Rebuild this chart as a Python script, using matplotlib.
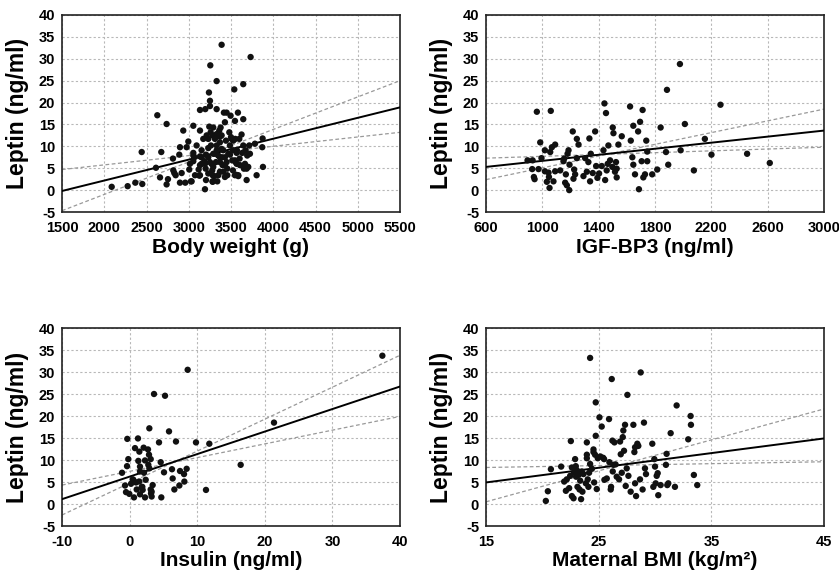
import matplotlib
matplotlib.use("Agg")
import matplotlib.pyplot as plt
import numpy as np

plt.rcParams['font.family'] = ['Liberation Sans', 'DejaVu Sans']
plt.rcParams['font.weight'] = 'bold'
plt.rcParams['axes.unicode_minus'] = False

# ---------------- Panel 1: Body weight ----------------
bw_x = [2088, 2277, 2368, 2450, 2443, 2612, 2628, 2675, 2660, 2738, 2738, 2754, 2813, 2817, 2829, 2845,
        2888, 2896, 2896, 2916, 2935, 2959, 2975, 2995, 3014, 3006, 3026, 3054, 3054, 3066, 3093, 3117,
        3125, 3133, 3133, 3133, 3152, 3152, 3172, 3184, 3196, 3200, 3192, 3204, 3212, 3231, 3231, 3231,
        3231, 3239, 3243, 3251, 3251, 3255, 3259, 3263, 3270, 3278, 3282, 3290, 3290, 3302, 3310, 3322,
        3330, 3330, 3330, 3330, 3338, 3349, 3361, 3369, 3369, 3377, 3389, 3389, 3393, 3401, 3408, 3416,
        3428, 3428, 3440, 3448, 3448, 3456, 3468, 3480, 3487, 3495, 3507, 3515, 3523, 3523, 3539, 3547,
        3551, 3555, 3562, 3570, 3582, 3586, 3602, 3625, 3633, 3645, 3645, 3645, 3653, 3665, 3673, 3685,
        3692, 3704, 3716, 3724, 3732, 3783, 3803, 3870, 3874, 3878,
        3283, 3369, 3500, 3330, 3389, 3527, 3598, 3054, 3152, 3204, 3310, 3369, 3428, 3488, 3567, 3054,
        3133, 3192, 3251, 3290, 3369, 3428, 3547, 3567, 3606, 3685, 3074, 3133, 3283, 3350, 3409, 3456,
        3547, 3586, 3034, 3283]
bw_y = [0.75, 0.9, 1.7, 1.4, 8.7, 5.1, 17.1, 8.7, 2.9, 15.1, 1.3, 2.5, 7.2, 4.5, 3.9, 3.4,
        8.1, 9.8, 1.7, 3.9, 13.6, 1.7, 9.8, 11.1, 6.0, 4.7, 2.0, 14.7, 8.5, 7.5, 10.2, 4.7,
        3.3, 18.3, 13.6, 7.7, 6.0, 9.1, 11.7, 6.6, 18.5, 4.9, 0.2, 2.3, 12.5, 11.7, 9.6, 7.5,
        3.8, 22.3, 14.5, 19.2, 20.4, 28.5, 13.2, 10.2, 6.0, 4.5, 2.0, 14.3, 8.3, 3.2, 11.7, 6.4,
        24.9, 18.5, 12.8, 9.1, 2.0, 7.9, 13.6, 10.9, 4.2, 14.3, 33.2, 12.5, 7.5, 5.7, 9.1, 17.7,
        15.5, 3.0, 11.3, 17.7, 6.4, 4.9, 8.3, 13.2, 10.2, 17.0, 11.7, 6.8, 9.1, 4.5, 23.0, 15.8,
        11.7, 6.4, 3.5, 9.1, 17.7, 3.2, 7.2, 12.7, 8.5, 24.2, 16.2, 10.2, 4.9, 6.0, 9.1, 2.3,
        7.9, 5.3, 10.2, 8.3, 30.4, 10.6, 3.4, 9.8, 11.8, 5.3,
        12.5, 12.2, 12.1, 10.2, 9.4, 11.3, 11.7, 7.9, 7.5, 8.1, 8.3, 7.5, 7.5, 8.1, 8.5, 6.6,
        5.7, 6.0, 6.4, 5.3, 6.4, 5.7, 6.8, 6.0, 5.7, 4.9, 3.4, 3.4, 3.4, 3.4, 4.2, 3.4,
        3.4, 3.4, 2.0, 1.9]
bw_fit_x = [1500, 5500]
bw_fit = [-0.2, 18.9]
bw_ci_up = [-4.7, 25.0]
bw_ci_lo = [4.7, 13.2]

# ---------------- Panel 2: IGF-BP3 ----------------
igf_x = [895, 931, 928, 940, 945, 961, 973, 985, 994, 1018, 1018, 1032, 1044, 1047, 1051, 1056, 1060,
         1068, 1079, 1091, 1091, 1127, 1150, 1155, 1162, 1167, 1174, 1179, 1186, 1191, 1193, 1216, 1221,
         1226, 1233, 1245, 1245, 1257, 1292, 1304, 1316, 1327, 1334, 1339, 1344, 1358, 1375, 1382, 1391,
         1403, 1422, 1434, 1441, 1446, 1452, 1457, 1464, 1469, 1481, 1497, 1500, 1505, 1516, 1523, 1528,
         1528, 1540, 1564, 1623, 1628, 1639, 1646, 1646, 1658, 1680, 1686, 1694, 1705, 1712, 1717, 1729,
         1738, 1745, 1745, 1780, 1816, 1840, 1878, 1885, 1894, 1977, 1982, 2012, 2076, 2154, 2201, 2265,
         2454, 2615]
igf_y = [6.8, 6.8, 4.8, 3.0, 2.5, 17.9, 4.8, 10.9, 7.3, 9.1, 4.3, 1.9, 4.0, 3.0, 0.5, 8.7, 18.1,
         9.8, 2.0, 10.4, 4.3, 4.5, 6.6, 7.2, 1.7, 3.6, 1.1, 8.3, 9.1, 0.0, 5.8, 13.4, 2.6,
         4.7, 3.6, 11.7, 7.3, 10.4, 3.2, 7.3, 4.2, 6.4, 11.8, 2.0, 8.3, 3.9, 13.4, 5.5, 2.8,
         3.8, 5.5, 9.1, 19.8, 2.3, 17.6, 4.5, 6.0, 10.2, 6.8, 5.3, 14.3, 13.0, 4.2, 6.4, 4.9,
         2.9, 10.4, 12.3, 19.1, 11.3, 7.5, 14.7, 5.8, 3.6, 13.4, 0.2, 15.6, 6.6, 18.3, 2.9, 3.6,
         11.3, 8.8, 6.6, 3.6, 4.7, 14.3, 8.7, 22.9, 5.8, 28.8, 9.1, 15.1, 4.5, 11.7, 8.1, 19.5,
         8.3, 6.2]
igf_fit_x = [600, 3000]
igf_fit = [5.3, 13.6]
igf_ci_up = [2.4, 18.5]
igf_ci_lo = [7.3, 9.8]

# ---------------- Panel 3: Insulin ----------------
ins_x = [-1.12, -0.68, -0.53, -0.38, -0.34, -0.19, -0.04, 0.21, 0.45, 0.65, 0.80, 0.95, 1.05, 1.24,
         1.29, 1.44, 1.44, 1.54, 1.54, 1.78, 1.93, 2.08, 2.13, 2.28, 2.28, 2.38, 2.72, 2.87, 2.92, 2.92,
         3.12, 3.12, 3.17, 3.26, 3.41, 3.61, 4.35, 4.60, 4.69, 5.09, 5.24, 5.83, 6.27, 6.37, 6.62, 6.86,
         7.36, 7.46, 8.05, 8.10, 8.44, 8.59, 9.82, 11.30, 11.79, 16.43, 21.36, 37.39,
         2.77, 1.54, 0.55, 1.88, 3.26]
ins_y = [7.1, 4.2, 2.7, 8.6, 14.8, 10.2, 2.3, 4.6, 5.6, 1.5, 12.7, 4.9, 3.3, 14.9,
         9.8, 11.9, 5.1, 8.5, 2.2, 3.8, 3.2, 12.8, 7.1, 9.9, 1.5, 5.5, 12.4, 11.2, 17.2, 8.1,
         10.2, 3.3, 2.4, 1.7, 4.3, 25.0, 14.0, 9.5, 1.5, 7.2, 24.6, 16.5, 7.9, 5.8, 3.3, 14.2,
         4.2, 7.5, 6.8, 5.1, 8.0, 30.5, 14.0, 3.2, 13.7, 8.9, 18.5, 33.7,
         8.9, 7.4, 5.5, 3.9, 2.8]
ins_fit_x = [-10, 40]
ins_fit = [1.1, 26.7]
ins_ci_up = [-2.5, 33.8]
ins_ci_lo = [4.3, 19.9]

# ---------------- Panel 4: Maternal BMI ----------------
bmi_x = [20.31, 20.49, 20.76, 21.67, 21.94, 22.09, 22.17, 22.38, 22.47, 22.53, 22.62, 22.62, 22.77,
         22.82, 22.91, 22.97, 23.06, 23.12, 23.21, 23.30, 23.36, 23.44, 23.50, 23.56, 23.65, 23.86,
         23.95, 23.95, 23.95, 24.03, 24.09, 24.15, 24.24, 24.24, 24.54, 24.54, 24.60, 24.68, 24.74,
         24.74, 24.83, 24.92, 25.07, 25.27, 25.48, 25.51, 25.72, 25.92, 25.95, 26.07, 26.10, 26.16,
         26.22, 26.25, 26.31, 26.40, 26.60, 26.81, 26.90, 26.96, 27.05, 27.14, 27.19, 27.25, 27.34,
         27.40, 27.49, 27.55, 27.64, 27.84, 28.08, 28.17, 28.23, 28.23, 28.32, 28.43, 28.52, 28.67,
         28.73, 28.90, 29.02, 29.11, 29.20, 29.76, 29.85, 29.94, 30.00, 30.06, 30.15, 30.24, 30.29,
         30.50, 30.97, 31.03, 31.09, 31.18, 31.39, 31.77, 31.92, 32.95, 33.19, 33.16, 33.45, 33.75,
         25.15, 25.40, 24.40, 23.00, 26.50]
bmi_y = [0.7, 2.9, 7.9, 8.5, 5.1, 3.0, 5.6, 3.6, 6.4, 14.3, 8.3, 1.8, 1.3,
         7.1, 10.2, 8.6, 7.7, 3.9, 6.6, 3.3, 5.3, 1.1, 7.4, 2.8, 6.8, 4.7,
         14.0, 11.2, 10.4, 5.6, 3.9, 7.1, 33.2, 9.1, 11.8, 12.4, 4.9, 11.2, 23.1,
         15.5, 3.4, 10.4, 19.7, 17.6, 10.2, 5.5, 5.8, 19.3, 9.5, 3.3, 3.9, 28.4,
         14.4, 7.4, 8.9, 14.0, 6.2, 5.6, 14.2, 11.3, 7.1, 15.2, 16.7, 12.1, 18.0,
         4.1, 8.1, 24.8, 6.4, 2.8, 18.0, 11.8, 12.9, 4.7, 1.8, 13.7, 13.2, 5.6,
         29.9, 3.3, 18.5, 8.1, 6.8, 13.7, 3.9, 10.2, 8.5, 4.7, 6.4, 7.0, 2.0,
         4.3, 8.9, 11.4, 4.3, 4.7, 16.1, 3.9, 22.4, 14.7, 18.0, 20.0, 6.6, 4.3,
         10.8, 10.5, 8.0, 6.2, 9.0]
bmi_fit_x = [15, 45]
bmi_fit = [4.9, 14.9]
bmi_ci_up = [0.5, 21.6]
bmi_ci_lo = [8.3, 9.6]

y_ticks = [-5, 0, 5, 10, 15, 20, 25, 30, 35, 40]

panels = [
    dict(x=bw_x, y=bw_y, fx=bw_fit_x, f=bw_fit, cu=bw_ci_up, cl=bw_ci_lo,
         xlim=(1500, 5500), xticks=list(range(1500, 5501, 500)),
         xlabel='Body weight (g)', rect=[62/839, 1-212/571, 338/839, 197/571], xly=-0.208),
    dict(x=igf_x, y=igf_y, fx=igf_fit_x, f=igf_fit, cu=igf_ci_up, cl=igf_ci_lo,
         xlim=(600, 3000), xticks=list(range(600, 3001, 400)),
         xlabel='IGF-BP3 (ng/ml)', rect=[486/839, 1-212/571, 338/839, 197/571], xly=-0.208),
    dict(x=ins_x, y=ins_y, fx=ins_fit_x, f=ins_fit, cu=ins_ci_up, cl=ins_ci_lo,
         xlim=(-10, 40), xticks=[-10, 0, 10, 20, 30, 40],
         xlabel='Insulin (ng/ml)', rect=[62/839, 1-526/571, 338/839, 198/571], xly=-0.204),
    dict(x=bmi_x, y=bmi_y, fx=bmi_fit_x, f=bmi_fit, cu=bmi_ci_up, cl=bmi_ci_lo,
         xlim=(15, 45), xticks=[15, 25, 35, 45],
         xlabel='Maternal BMI (kg/m\u00b2)', rect=[486/839, 1-526/571, 338/839, 198/571], xly=-0.204),
]

fig = plt.figure(figsize=(8.39, 5.71), dpi=100)
for p in panels:
    ax = fig.add_axes(p['rect'])
    ax.set_xlim(*p['xlim'])
    ax.set_ylim(-5, 40)
    ax.set_xticks(p['xticks'])
    ax.set_yticks(y_ticks)
    ax.grid(True, color='#b8b8b8', linestyle=(0, (2, 2)), linewidth=0.8)
    ax.set_axisbelow(True)
    ax.plot(p['fx'], p['cu'], color='#999999', linestyle=(0, (3, 2)), linewidth=0.9, zorder=2)
    ax.plot(p['fx'], p['cl'], color='#999999', linestyle=(0, (3, 2)), linewidth=0.9, zorder=2)
    ax.plot(p['fx'], p['f'], color='black', linewidth=1.4, zorder=3)
    ax.scatter(p['x'], p['y'], s=21, color='#111111', edgecolors='none', zorder=4)
    for s in ax.spines.values():
        s.set_linewidth(1.2)
        s.set_color('#222222')
    ax.tick_params(axis='x', length=0, pad=6.5)
    ax.tick_params(axis='y', length=0, pad=5)
    ax.set_xticklabels([str(v) for v in p['xticks']])
    ax.set_yticklabels([str(v) for v in y_ticks])
    for lab in ax.get_xticklabels() + ax.get_yticklabels():
        lab.set_fontweight('bold')
        lab.set_fontsize(10.5)
    xl = ax.set_xlabel(p['xlabel'], fontsize=15, fontweight='bold')
    xl.set_verticalalignment('baseline')
    ax.xaxis.set_label_coords(0.5, p['xly'])
    yl = ax.set_ylabel('Leptin (ng/ml)', fontsize=16.5, fontweight='bold')
    yl.set_verticalalignment('center')
    ax.yaxis.set_label_coords(-0.133, 0.5)

fig.savefig('out.png', dpi=100)
